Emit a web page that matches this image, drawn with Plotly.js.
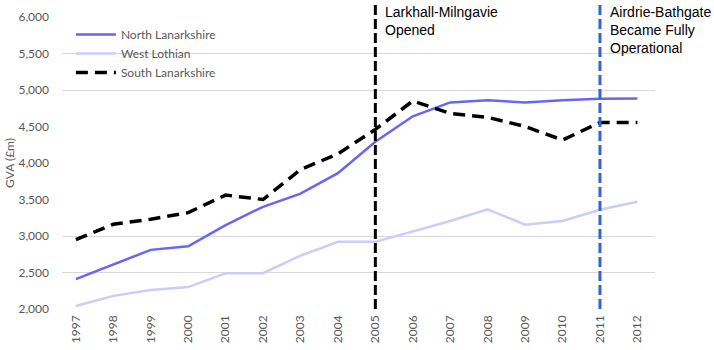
<!DOCTYPE html>
<html>
<head>
<meta charset="utf-8">
<script src="https://cdn.plot.ly/plotly-3.0.1.min.js"></script>
<style>html,body{margin:0;padding:0;background:#fff}#chart{width:714px;height:350px}</style>
</head>
<body>
<div id="chart"></div>
<script>
const years = ['1997','1998','1999','2000','2001','2002','2003','2004','2005','2006','2007','2008','2009','2010','2011','2012'];
const northLanarkshire = [2410, 2610, 2810, 2860, 3150, 3400, 3580, 3860, 4290, 4640, 4830, 4860, 4830, 4860, 4880, 4885];
const westLothian = [2040, 2180, 2260, 2300, 2490, 2490, 2730, 2920, 2920, 3060, 3205, 3365, 3155, 3205, 3360, 3470];
const southLanarkshire = [2950, 3160, 3230, 3320, 3560, 3500, 3910, 4125, 4460, 4850, 4680, 4625, 4500, 4315, 4555, 4555];
const yTicks = [2000, 2500, 3000, 3500, 4000, 4500, 5000, 5500, 6000];
const gridTicks = [2000, 2500, 3000, 5000, 5500, 6000];
const events = [
  {year: '2005', label: 'Larkhall-Milngavie<br>Opened', color: '#000000'},
  {year: '2011', label: 'Airdrie-Bathgate<br>Became Fully<br>Operational', color: '#3366CC'}
];

const font = 'Lato, "Open Sans", sans-serif';
const grey = '#595959';

const traces = [
  {x: years, y: northLanarkshire, name: 'North Lanarkshire', type: 'scatter', mode: 'lines',
   line: {color: '#6666F5', width: 2.5}},
  {x: years, y: westLothian, name: 'West Lothian', type: 'scatter', mode: 'lines',
   line: {color: '#CCCCFA', width: 2.5}},
  {x: years, y: southLanarkshire, name: 'South Lanarkshire', type: 'scatter', mode: 'lines',
   line: {color: '#000000', width: 3.5, dash: '12px,7px'}},
  {x: [years[0]], y: [gridTicks[0]], yaxis: 'y2', type: 'scatter', mode: 'none', showlegend: false, hoverinfo: 'skip'}
];

const shapes = events.map(e => ({
  type: 'line', xref: 'x', yref: 'paper',
  x0: years.indexOf(e.year), x1: years.indexOf(e.year), y0: 0, y1: 1.041,
  line: {color: e.color, width: 3, dash: '10px,4px'}
}));

const annotations = events.map(e => ({
  xref: 'x', yref: 'paper', x: years.indexOf(e.year), y: 1.05,
  xanchor: 'left', yanchor: 'top', xshift: 8, align: 'left', showarrow: false,
  text: e.label, font: {family: '"Liberation Sans", Arial, sans-serif', size: 14, color: '#000'}
}));

const layout = {
  width: 714, height: 350,
  margin: {l: 62, r: 59, t: 17, b: 41},
  paper_bgcolor: '#fff', plot_bgcolor: 'rgba(0,0,0,0)',
  font: {family: font, size: 12, color: grey},
  xaxis: {type: 'category', range: [-0.37, 15.47], tickangle: -90, showgrid: false, zeroline: false,
          showline: false, ticks: '', tickfont: {family: font, size: 12, color: grey}, ticklabelstandoff: 3},
  yaxis: {range: [2000, 6000], tickvals: yTicks, ticktext: yTicks.map(v => v.toLocaleString('en-GB')),
          showgrid: false, zeroline: false, ticks: '', ticklabelstandoff: 12,
          tickfont: {family: font, size: 12, color: grey},
          title: {text: 'GVA (£m)', standoff: 1, font: {family: font, size: 12, color: grey}}},
  yaxis2: {overlaying: 'y', range: [2000, 6000], tickvals: gridTicks, showticklabels: false,
           showgrid: true, gridcolor: '#D9D9D9', gridwidth: 1, zeroline: false, ticks: ''},
  showlegend: true,
  legend: {x: 0.015, y: 0.99, xanchor: 'left', yanchor: 'top', bgcolor: 'rgba(0,0,0,0)',
           itemwidth: 40, font: {family: font, size: 12, color: grey}, tracegroupgap: 0},
  shapes: shapes,
  annotations: annotations
};

Plotly.newPlot('chart', traces, layout, {displayModeBar: false, staticPlot: true});
</script>
</body>
</html>
